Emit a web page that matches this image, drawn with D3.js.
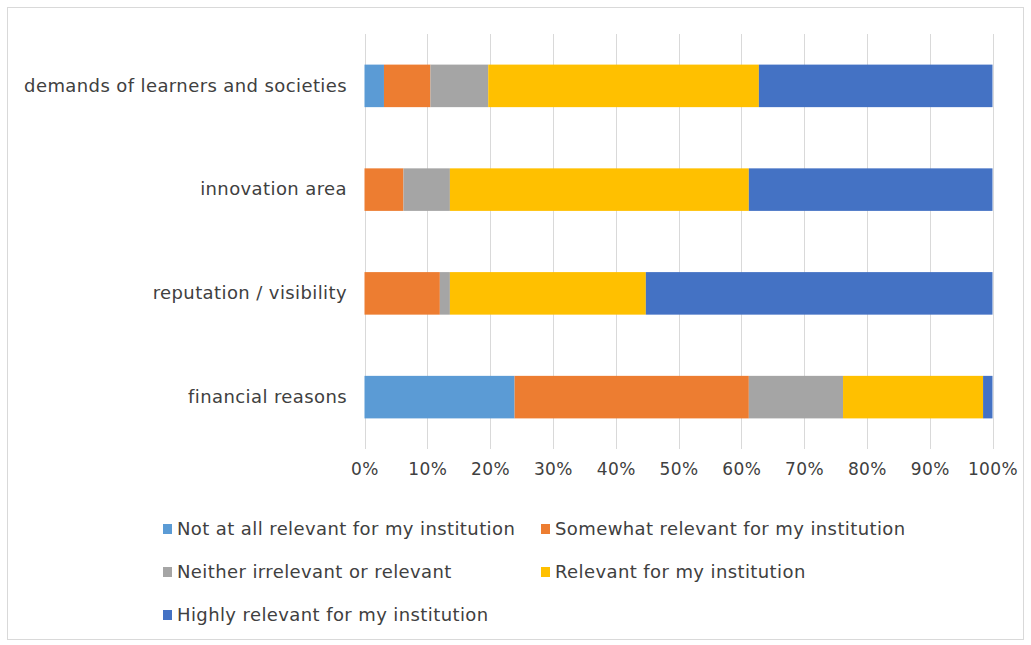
<!DOCTYPE html>
<html><head><meta charset="utf-8">
<script src="https://cdn.jsdelivr.net/npm/d3@7"></script>
<style>body{margin:0;background:#fff}svg{display:block}text{font-family:"DejaVu Sans",sans-serif;fill:#404040;letter-spacing:0.4px}</style>
</head><body><svg id="c" width="1031" height="645"></svg>
<script>
const categories = ["demands of learners and societies","innovation area","reputation / visibility","financial reasons"];
const seriesNames = ["Not at all relevant for my institution","Somewhat relevant for my institution","Neither irrelevant or relevant","Relevant for my institution","Highly relevant for my institution"];
const notAtAll   = [3.1, 0, 0, 23.9];
const somewhat   = [7.4, 6.2, 12.0, 37.3];
const neither    = [9.2, 7.4, 1.6, 15.0];
const relevant   = [43.1, 47.6, 31.2, 22.3];
const highly     = [37.2, 38.8, 55.2, 1.5];
const colors = ["#5B9BD5","#ED7D31","#A5A5A5","#FFC000","#4472C4"];
const tickValues = [0,10,20,30,40,50,60,70,80,90,100];

const svg = d3.select("#c");
svg.append("rect").attr("x",7.5).attr("y",7.5).attr("width",1016).attr("height",632)
  .attr("fill","#fff").attr("stroke","#d9d9d9");

const x = d3.scaleLinear().domain([0,100]).range([364.5,992.5]);
const y = d3.scaleBand().domain(categories).range([34,449]).paddingInner(0.59).paddingOuter(0.295);

const table = categories.map((c,i)=>({cat:c, s0:notAtAll[i], s1:somewhat[i], s2:neither[i], s3:relevant[i], s4:highly[i]}));
const keys = ["s0","s1","s2","s3","s4"];
const stacked = d3.stack().keys(keys)(table);

// gridlines
svg.append("g").selectAll("line").data(tickValues).join("line")
  .attr("x1",d=>Math.round(x(d))+0.5).attr("x2",d=>Math.round(x(d))+0.5)
  .attr("y1",34).attr("y2",449).attr("stroke","#d9d9d9").attr("stroke-width",1);

svg.append("g").selectAll("g").data(stacked).join("g").attr("fill",(d,i)=>colors[i])
  .selectAll("rect").data(d=>d).join("rect")
  .attr("x",d=>x(d[0])).attr("width",d=>x(d[1])-x(d[0]))
  .attr("y",d=>y(d.data.cat)).attr("height",y.bandwidth());

// x axis labels
const xAxis = d3.axisBottom(x).tickValues(tickValues).tickFormat(d=>d+"%").tickSize(0).tickPadding(0);
const gx = svg.append("g").attr("transform","translate(0,463)").call(xAxis);
gx.select(".domain").remove();
gx.selectAll("text").attr("font-size","17px").style("font-family",'"DejaVu Sans",sans-serif').attr("fill","#404040");

// y axis labels
const yAxis = d3.axisLeft(y).tickSize(0).tickPadding(0);
const gy = svg.append("g").attr("transform","translate(347,0)").call(yAxis);
gy.select(".domain").remove();
gy.selectAll("text").attr("font-size","18px").style("font-family",'"DejaVu Sans",sans-serif').attr("fill","#404040");

// legend
const legPos = [[163,529],[541,529],[163,572],[541,572],[163,615]];
const leg = svg.append("g").selectAll("g").data(seriesNames).join("g")
  .attr("transform",(d,i)=>`translate(${legPos[i][0]},${legPos[i][1]})`);
leg.append("rect").attr("x",0).attr("y",-5).attr("width",9).attr("height",10).attr("fill",(d,i)=>colors[i]);
leg.append("text").attr("x",14).attr("y",0).attr("dy","0.35em").attr("font-size","18px").attr("fill","#404040").text(d=>d);
</script></body></html>
